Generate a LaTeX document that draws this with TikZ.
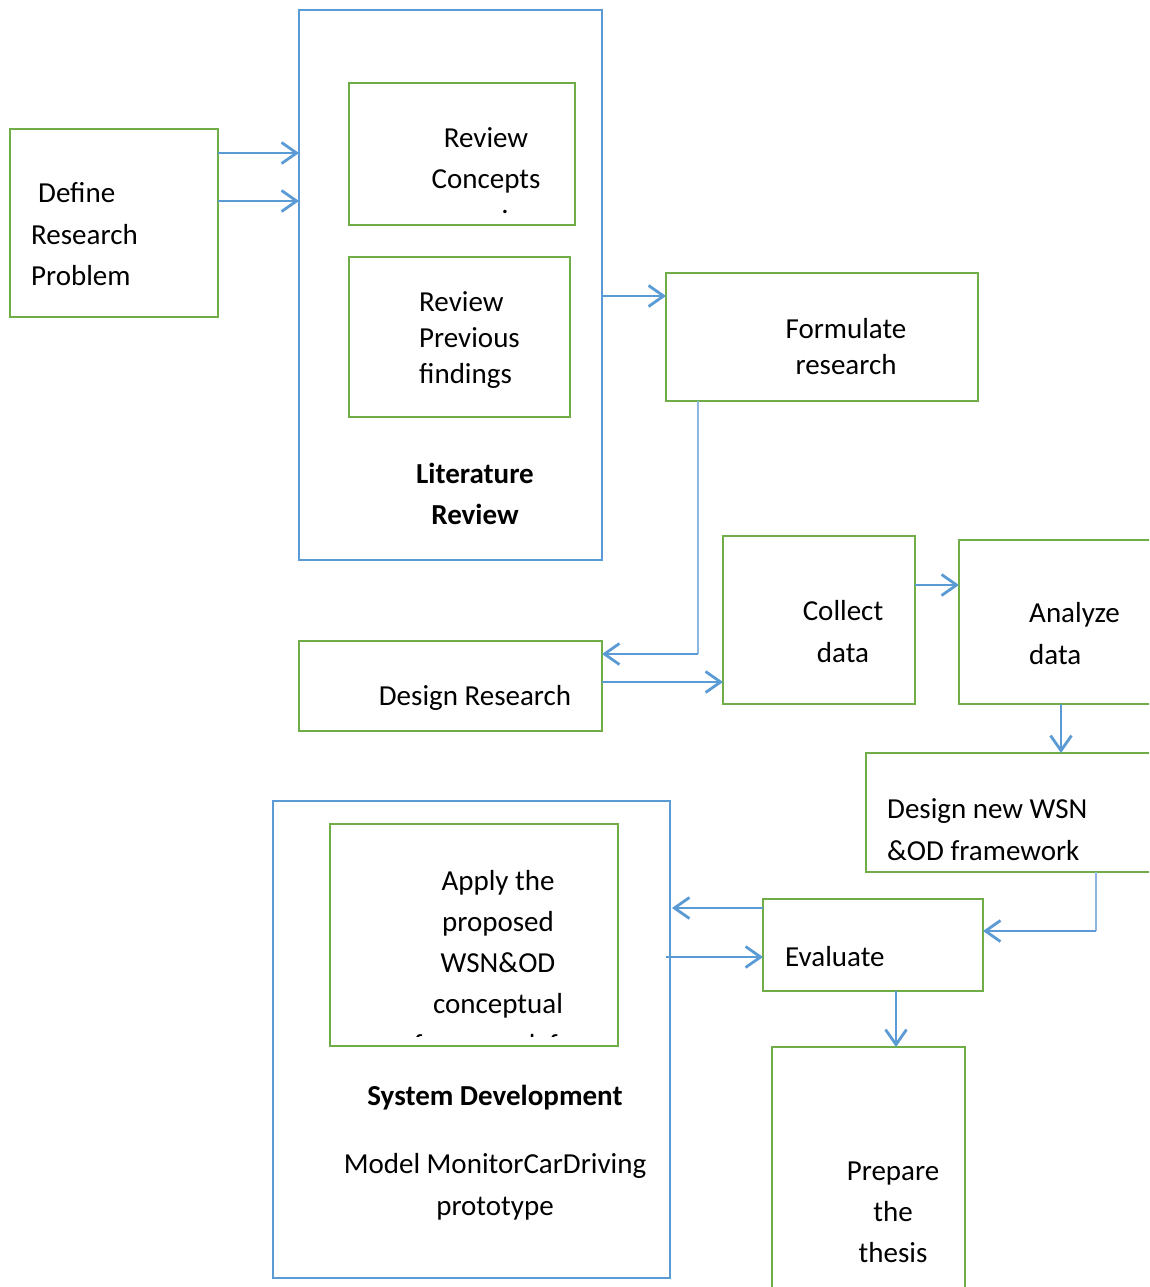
\documentclass[tikz,border=0pt]{standalone}
\usepackage{fontspec}
\setmainfont{Carlito}
\usetikzlibrary{arrows.meta,calc}
\definecolor{bgreen}{HTML}{70AD47}
\definecolor{bblue}{HTML}{5B9BD5}
\definecolor{lblue}{HTML}{8DB8E2}
\tikzset{
  gbox/.style={draw=bgreen, line width=2.8pt, rectangle, inner sep=0pt, outer sep=0pt},
  bluebox/.style={draw=bblue, line width=2.8pt, rectangle, inner sep=0pt, outer sep=0pt},
  lbl/.style={font=\fontsize{29}{41.5}\selectfont, align=center, inner sep=0pt},
  lblnarrow/.style={font=\fontsize{29}{36}\selectfont, align=center, inner sep=0pt},
  conn/.style={draw=bblue, line width=2.8pt, -{Straight Barb[length=15pt, width=21pt, line width=2.8pt]}},
  thinline/.style={draw=lblue, line width=1.7pt}
}
\begin{document}
\begin{tikzpicture}[x=1pt,y=-1pt]
\useasboundingbox (0,0) rectangle (1149,1287);
\clip (0,0) rectangle (1149,1287);
\fill[white] (0,0) rectangle (1149,1287);

% boxes
\node[gbox, minimum width=208, minimum height=188] (def) at (114,223) {};
\node[bluebox, minimum width=303, minimum height=550] (lit) at (450.5,285) {};
\node[gbox, minimum width=226, minimum height=142] (rc) at (462,154) {};
\node[gbox, minimum width=221, minimum height=160] (rp) at (459.5,337) {};
\node[gbox, minimum width=312, minimum height=128] (form) at (822,337) {};
\node[gbox, minimum width=303, minimum height=90] (dr) at (450.5,686) {};
\node[gbox, minimum width=192, minimum height=168] (col) at (819,620) {};
\node[gbox, minimum width=206, minimum height=164] (ana) at (1062,622) {};
\node[gbox, minimum width=299, minimum height=119] (dn) at (1015.5,812.5) {};
\node[bluebox, minimum width=397, minimum height=477] (sd) at (471.5,1039.5) {};
\node[gbox, minimum width=288, minimum height=222] (ap) at (474,935) {};
\node[gbox, minimum width=220, minimum height=92] (ev) at (873,945) {};
\node[gbox, minimum width=193, minimum height=253] (pr) at (868.5,1173.5) {};

% texts
\node[lbl, align=left, anchor=west] (tdef) at (31,234.5) {\hspace{7pt}Define\\Research\\Problem};
\node[lbl] (trc) at (486,170.5) {Review\\Concepts\\[-16.5pt]\hspace{38pt}.};
\node[lblnarrow, align=left, anchor=west] (trp) at (419,340) {Review\\Previous\\findings};
\node[lbl, font=\fontsize{29}{41}\selectfont\bfseries] (tlit) at (475,493.5) {Literature\\Review};
\node[lblnarrow] (tform) at (846,347) {Formulate\\research};
\node[lbl] (tdr) at (475,698) {Design Research};
\node[lbl, font=\fontsize{29}{42}\selectfont] (tcol) at (843,632) {Collect\\data};
\node[lbl, align=left, anchor=west, font=\fontsize{29}{42}\selectfont] (tana) at (1029,634) {Analyze\\data};
\node[lbl, align=left, anchor=west] (tdn) at (887,829.5) {Design new WSN\\\&OD framework};
\begin{scope}
  \clip ($(ap.north west)+(2,2)$) rectangle ($(ap.south east)+(-2,-10)$);
  \node[lbl, font=\fontsize{29}{41}\selectfont, anchor=north] (tap) at (498,870) {Apply the\\proposed\\WSN\&OD\\conceptual\\framework for};
\end{scope}
\node[lbl, font=\fontsize{29}{41}\selectfont\bfseries] (tsd) at (495,1098) {System Development};
\node[lbl, font=\fontsize{29}{42}\selectfont] (tmodel) at (495,1187) {Model MonitorCarDriving\\prototype};
\node[lbl, anchor=west] (tev) at (785,957) {Evaluate};
\node[lbl, font=\fontsize{29}{41}\selectfont] (tpr) at (893,1212) {Prepare\\the\\thesis};

% connectors
\coordinate (a1) at ($(def.north east)+(0,24)$);
\coordinate (a2) at ($(def.north east)+(0,72)$);
\draw[conn] (a1) -- (a1 -| lit.west);
\draw[conn] (a2) -- (a2 -| lit.west);

\coordinate (a3) at ($(form.north west)+(0,23)$);
\draw[conn] (a3 -| lit.east) -- (a3);

\coordinate (a4) at ($(form.south west)+(32,0)$);
\coordinate (a4b) at ($(dr.north east)+(0,13)$);
\draw[thinline] (a4) -- (a4 |- a4b);
\draw[conn] (a4 |- a4b) -- (a4b);

\coordinate (a5) at ($(dr.north east)+(0,41)$);
\draw[conn] (a5) -- (a5 -| col.west);

\coordinate (a6) at ($(col.north east)+(0,49)$);
\draw[conn] (a6) -- (a6 -| ana.west);

\coordinate (a7) at ($(ana.south west)+(102,0)$);
\draw[conn] (a7) -- (a7 |- dn.north);

\coordinate (a8) at ($(dn.south west)+(230,0)$);
\coordinate (a8b) at ($(ev.north east)+(0,32)$);
\draw[thinline] (a8) -- (a8 |- a8b);
\draw[conn] (a8 |- a8b) -- (a8b);

\coordinate (a9) at ($(ev.north west)+(0,9)$);
\draw[conn] (a9) -- ($(a9 -| sd.east)+(2,0)$);

\coordinate (a10) at ($(ev.north west)+(0,58)$);
\draw[conn] ($(a10 -| sd.east)+(-4,0)$) -- (a10);

\coordinate (a11) at ($(ev.south west)+(133,0)$);
\draw[conn] (a11) -- (a11 |- pr.north);
\end{tikzpicture}
\end{document}
